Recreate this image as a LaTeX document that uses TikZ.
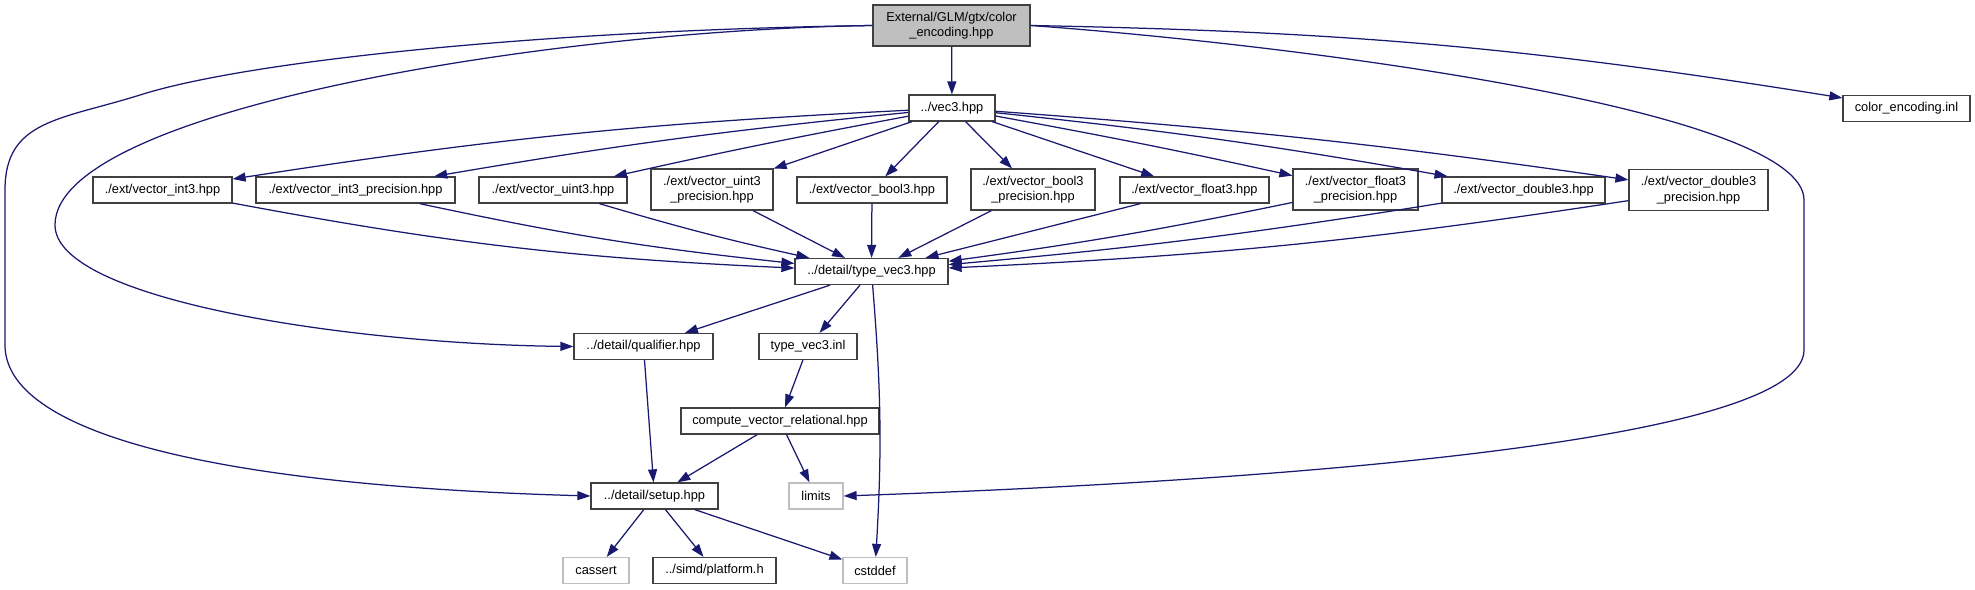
\documentclass[tikz,border=0pt]{standalone}
\usepackage{fontspec}
\setmainfont{Liberation Sans}
\usepackage{tikz}
\usetikzlibrary{arrows.meta}
\usetikzlibrary{positioning}

\definecolor{edgeblue}{HTML}{191970}
\definecolor{rootgray}{HTML}{BFBFBF}
\definecolor{framegray}{HTML}{404040}
\definecolor{sysgray}{HTML}{BFBFBF}

\begin{document}
\begin{tikzpicture}[
        x=0.02cm, y=-0.02cm,
        font=\fontsize{7.3}{8.9}\selectfont,
        % Style for an ordinary header box
        filebox/.style={rectangle, draw=framegray, fill=white, line width=0.25mm, align=center, inner xsep=0pt, inner ysep=0pt, minimum height=0.52cm},
        % Header box with two lines of text
        twobox/.style={filebox, minimum height=0.82cm},
        % The file the graph is drawn for
        rootbox/.style={twobox, fill=rootgray},
        % System headers (grey frame)
        sysbox/.style={filebox, draw=sysgray},
        % Include arrows
        dep/.style={draw=edgeblue, line width=0.25mm, -{Triangle[length=0.26cm, width=0.18cm]}}
    ]

    \useasboundingbox (0,0) rectangle (1975,589);

    % --- 1. NODES ---
    \node[rootbox, minimum width=3.14cm] (Root) at (951.5,25.5) {External/GLM/gtx/color\\\_encoding.hpp};

    \node[filebox, minimum width=1.72cm] (Vec3) at (952,108) {../vec3.hpp};
    \node[filebox, minimum width=2.54cm] (Inl) at (1906.5,108.5) {color\_encoding.inl};

    % ext headers, one row
    \node[filebox, minimum width=2.78cm] (E1) at (162.5,190) {./ext/vector\_int3.hpp};
    \node[filebox, minimum width=3.98cm] (E2) at (355.5,190) {./ext/vector\_int3\_precision.hpp};
    \node[filebox, minimum width=2.96cm] (E3) at (553,190) {./ext/vector\_uint3.hpp};
    \node[twobox, minimum width=2.44cm] (E4) at (712,189.5) {./ext/vector\_uint3\\\_precision.hpp};
    \node[filebox, minimum width=3.00cm] (E5) at (872,190) {./ext/vector\_bool3.hpp};
    \node[twobox, minimum width=2.48cm] (E6) at (1033,189.5) {./ext/vector\_bool3\\\_precision.hpp};
    \node[filebox, minimum width=2.98cm] (E7) at (1194.5,190) {./ext/vector\_float3.hpp};
    \node[twobox, minimum width=2.50cm] (E8) at (1355.5,189.5) {./ext/vector\_float3\\\_precision.hpp};
    \node[filebox, minimum width=3.26cm] (E9) at (1523.5,190) {./ext/vector\_double3.hpp};
    \node[twobox, minimum width=2.78cm] (E10) at (1698.5,190) {./ext/vector\_double3\\\_precision.hpp};

    \node[filebox, minimum width=3.06cm] (TVec) at (871.5,271.5) {../detail/type\_vec3.hpp};

    \node[filebox, minimum width=2.78cm] (Qual) at (643.5,346.5) {../detail/qualifier.hpp};
    \node[filebox, minimum width=1.96cm] (TInl) at (808,346.5) {type\_vec3.inl};
    \node[filebox, minimum width=3.96cm] (Comp) at (780,421) {compute\_vector\_relational.hpp};

    \node[filebox, minimum width=2.54cm] (Setup) at (654.5,496) {../detail/setup.hpp};
    \node[sysbox, minimum width=1.08cm] (Lim) at (816,496) {limits};

    \node[sysbox, minimum width=1.32cm] (Cass) at (596,570.5) {cassert};
    \node[filebox, minimum width=2.46cm] (Plat) at (714.5,570.5) {../simd/platform.h};
    \node[sysbox, minimum width=1.28cm] (Cstd) at (875,570.5) {cstddef};

    % --- 2. CONNECTIONS ---
    \draw[dep] (Root) -- (Vec3);
    \draw[dep] (Root.east) to[bend left=4] (Inl);

    % long curves round the left and right of the graph
    \draw[dep] (Root.west) .. controls (550,30) and (250,60) .. (140,95)
        .. controls (60,120) and (5,120) .. (5,190) -- (5,345)
        .. controls (5,430) and (200,485) .. (Setup.west);
    \draw[dep] (Root.west) .. controls (550,30) and (55,110) .. (55,225)
        .. controls (55,300) and (350,344) .. (Qual.west);
    \draw[dep] (Root.east) .. controls (1300,45) and (1804,110) .. (1804,200) -- (1804,350)
        .. controls (1804,440) and (1300,480) .. (Lim.east);

    % vec3 to the ext headers
    \draw[dep] (Vec3) to[bend right=3] (E1);
    \draw[dep] (Vec3) to[bend right=2] (E2);
    \draw[dep] (Vec3) to[bend right=1] (E3);
    \draw[dep] (Vec3) -- (E4);
    \draw[dep] (Vec3) -- (E5);
    \draw[dep] (Vec3) -- (E6);
    \draw[dep] (Vec3) -- (E7);
    \draw[dep] (Vec3) to[bend left=1] (E8);
    \draw[dep] (Vec3) to[bend left=2] (E9);
    \draw[dep] (Vec3) to[bend left=2] (E10);

    % ext headers to type_vec3
    \draw[dep] (E1) to[bend right=4] (TVec);
    \draw[dep] (E2) to[bend right=3] (TVec);
    \draw[dep] (E3) to[bend right=2] (TVec);
    \draw[dep] (E4) -- (TVec);
    \draw[dep] (E5) -- (TVec);
    \draw[dep] (E6) -- (TVec);
    \draw[dep] (E7) -- (TVec);
    \draw[dep] (E8) to[bend left=2] (TVec);
    \draw[dep] (E9) to[bend left=2] (TVec);
    \draw[dep] (E10) to[bend left=3] (TVec);

    % lower part
    \draw[dep] (TVec) -- (Qual);
    \draw[dep] (TVec) -- (TInl);
    \draw[dep] (TVec) to[bend left=4] (Cstd);
    \draw[dep] (Qual) -- (Setup);
    \draw[dep] (TInl) -- (Comp);
    \draw[dep] (Comp) -- (Setup);
    \draw[dep] (Comp) -- (Lim);
    \draw[dep] (Setup) -- (Cass);
    \draw[dep] (Setup) -- (Plat);
    \draw[dep] (Setup) -- (Cstd);

\end{tikzpicture}
\end{document}
